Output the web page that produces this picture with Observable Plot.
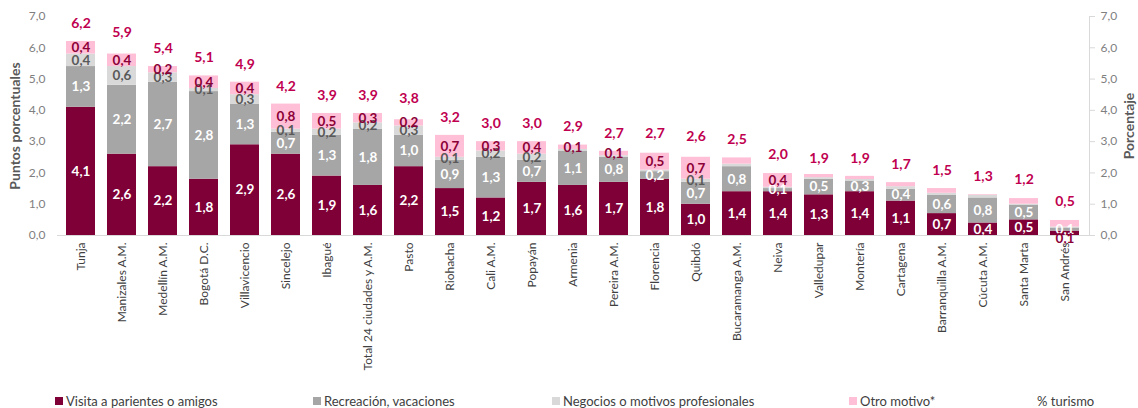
<!DOCTYPE html>
<html>
<head>
<meta charset="utf-8">
<script src="https://cdn.jsdelivr.net/npm/d3@7"></script>
<script src="https://cdn.jsdelivr.net/npm/@observablehq/plot@0.6"></script>
<style>
  body { margin: 0; background: white; font-family: Lato, "Open Sans", sans-serif; }
  #chart { position: relative; width: 1138px; }
  #legend { position: relative; width: 1138px; height: 26px; font-size: 13px; color: #404040; }
  .item { position: absolute; top: 0; line-height: 26px; white-space: nowrap; display: flex; align-items: center; }
  .sw { width: 8px; height: 8px; display: inline-block; margin-right: 3px; }
</style>
</head>
<body>
<div id="chart"></div>
<div id="legend"></div>
<script>
const ciudades = ["Tunja","Manizales A.M.","Medellín A.M.","Bogotá D.C.","Villavicencio","Sincelejo","Ibagué","Total 24 ciudades y A.M.","Pasto","Riohacha","Cali A.M.","Popayán","Armenia","Pereira A.M.","Florencia","Quibdó","Bucaramanga A.M.","Neiva","Valledupar","Montería","Cartagena","Barranquilla A.M.","Cúcuta A.M.","Santa Marta","San Andrés"];
const visita     = [4.1,2.6,2.2,1.8,2.9,2.6,1.9,1.6,2.2,1.5,1.2,1.7,1.6,1.7,1.8,1.0,1.4,1.4,1.3,1.4,1.1,0.7,0.4,0.5,0.14];
const recreacion = [1.3,2.2,2.7,2.8,1.3,0.7,1.3,1.8,1.0,0.9,1.3,0.7,1.1,0.8,0.24,0.7,0.8,0.1,0.5,0.34,0.38,0.58,0.8,0.46,0.1];
const negocios   = [0.4,0.6,0.3,0.1,0.3,0.1,0.2,0.2,0.3,0.1,0.2,0.2,0.05,0.05,0.05,0.1,0.08,0.04,0.05,0.05,0.08,0.07,0.09,0.04,0.03];
const otro       = [0.4,0.4,0.2,0.4,0.4,0.8,0.5,0.3,0.2,0.7,0.3,0.4,0.14,0.14,0.54,0.7,0.2,0.44,0.1,0.1,0.13,0.15,0.02,0.18,0.21];
const turismo    = [6.2,5.9,5.4,5.1,4.9,4.2,3.9,3.9,3.8,3.2,3.0,3.0,2.9,2.7,2.7,2.6,2.5,2.0,1.9,1.9,1.7,1.5,1.3,1.2,0.5];
// cities whose "Otro motivo" segment carries no label in the original
const otroSinEtiqueta = ["Bucaramanga A.M.","Valledupar","Montería","Cartagena","Barranquilla A.M.","Cúcuta A.M.","Santa Marta","San Andrés"];
const series = ["Visita a parientes o amigos","Recreación, vacaciones","Negocios o motivos profesionales","Otro motivo*"];
const colores = ["#7f0036","#a6a6a6","#d9d9d9","#ffbfd6"];
const ticksY = [0,1,2,3,4,5,6,7];

const valores = [visita, recreacion, negocios, otro];
const datos = [];
series.forEach((s, i) => ciudades.forEach((c, j) => datos.push({serie: s, ciudad: c, valor: valores[i][j]})));
const totales = ciudades.map((c, j) => ({ciudad: c, valor: turismo[j]}));

const fmt = v => v.toFixed(1).replace(".", ",");
const COL_TOTAL = "#c0004f";
const COL_OTRO = "#8c0038";

function labelMark(serieIdx, fill, test) {
  return Plot.text(datos, Plot.stackY({
    x: "ciudad", y: "valor", z: "serie",
    text: d => (d.serie === series[serieIdx] && test(d)) ? fmt(d.valor) : "",
    fill, fontWeight: "bold", fontSize: 13.5
  }));
}

const chart = Plot.plot({
  width: 1138, height: 388,
  marginLeft: 57, marginRight: 49, marginTop: 16, marginBottom: 153,
  x: {domain: ciudades, paddingInner: 0.29, paddingOuter: 0.145, label: null},
  y: {domain: [0, 7], label: null},
  color: {domain: series, range: colores},
  style: {fontFamily: "Lato, 'Open Sans', sans-serif", fontSize: "12px", background: "white"},
  marks: [
    Plot.ruleY([0], {stroke: "#d9d9d9"}),
    Plot.frame({anchor: "right", stroke: "#d9d9d9"}),
    Plot.barY(datos, {x: "ciudad", y: "valor", fill: "serie"}),
    labelMark(0, "white", d => d.valor >= 0.2),
    labelMark(1, "white", d => d.valor >= 0.095),
    labelMark(2, "#595959", d => d.valor >= 0.095),
    labelMark(3, COL_OTRO, d => !otroSinEtiqueta.includes(d.ciudad)),
    // tiny "visita" segments get their label just under the baseline
    Plot.text(datos.filter(d => d.serie === series[0] && d.valor < 0.2), {
      x: "ciudad", y: 0, text: d => fmt(d.valor), fill: COL_OTRO, fontWeight: "bold", fontSize: 13.5, dy: 3
    }),
    Plot.text(totales, {x: "ciudad", y: "valor", text: d => fmt(d.valor), fill: COL_TOTAL, fontWeight: "bold", fontSize: 14, dy: -18}),
    Plot.axisY({anchor: "left", ticks: ticksY, tickFormat: fmt, tickSize: 0, tickPadding: 12, fill: "#7f7f7f", label: null}),
    Plot.axisY({anchor: "right", ticks: ticksY, tickFormat: fmt, tickSize: 5, tickPadding: 6, stroke: "#d9d9d9", fill: "#7f7f7f", label: null}),
    Plot.axisX({tickRotate: -90, tickSize: 0, tickPadding: 7, fill: "#404040", label: null}),
    Plot.text(["Puntos porcentuales"], {frameAnchor: "left", textAnchor: "middle", rotate: -90, dx: -42, fill: "#595959", fontWeight: "bold", fontSize: 14}),
    Plot.text(["Porcentaje"], {frameAnchor: "right", textAnchor: "middle", rotate: -90, dx: 40, fill: "#595959", fontWeight: "bold", fontSize: 14})
  ]
});
document.getElementById("chart").appendChild(chart);

// legend below the chart
const legendItems = [
  {label: series[0], color: colores[0], left: 55},
  {label: series[1], color: colores[1], left: 313},
  {label: series[2], color: colores[2], left: 552},
  {label: series[3], color: colores[3], left: 849},
  {label: "% turismo", color: null, left: 1037}
];
const legend = d3.select("#legend");
legendItems.forEach(it => {
  const div = legend.append("div").attr("class", "item").style("left", it.left + "px");
  if (it.color) div.append("span").attr("class", "sw").style("background", it.color);
  div.append("span").text(it.label);
});
</script>
</body>
</html>
